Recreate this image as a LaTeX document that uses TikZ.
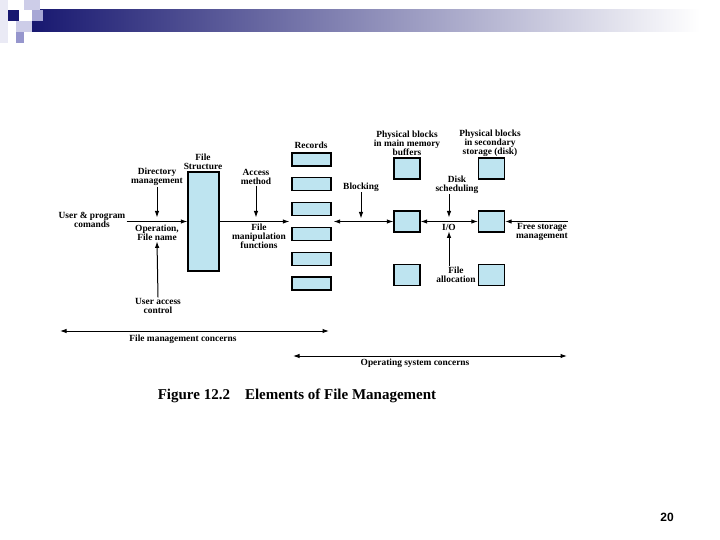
\documentclass[tikz,border=0pt]{standalone}
\usepackage{fontspec}
\setmainfont{Liberation Serif}
\setsansfont{Liberation Sans}
\usetikzlibrary{arrows.meta,calc,positioning}
\definecolor{boxblue}{RGB}{190,228,240}
\definecolor{navy}{RGB}{24,24,112}
\definecolor{lavlight}{RGB}{205,205,232}
\definecolor{lavmid}{RGB}{150,150,205}
\definecolor{lavpale}{RGB}{234,234,245}
\tikzset{
  blockbox/.style={draw=black, fill=boxblue, line width=1.3pt, inner sep=0pt},
  bufbox/.style={blockbox, minimum width=26pt, minimum height=21pt},
  recbox/.style={blockbox, minimum width=39pt, minimum height=13pt},
  lbl/.style={font=\fontsize{9.4}{8.8}\selectfont\bfseries, align=center, inner sep=1pt},
  arr/.style={-{Latex[length=6.5pt,width=4.5pt]}, line width=1pt},
  dbl/.style={{Latex[length=6.5pt,width=4.5pt]}-{Latex[length=6.5pt,width=4.5pt]}, line width=1pt},
}
\begin{document}
\begin{tikzpicture}[x=1pt,y=-1pt]
\useasboundingbox (0,0) rectangle (720,540);
% slide header
\fill[lavpale] (0,0) rectangle (8,43);
\shade[left color=navy, middle color={rgb,255:red,172;green,172;blue,198}, right color=white] (32,10) rectangle (700,32);
\fill[navy] (8,10) rectangle (19,21);
\fill[lavlight] (24,0) rectangle (40,10);
\fill[lavmid!70!lavlight] (32,10) rectangle (43,21);
\fill[lavlight] (16,21) rectangle (32,32);
\fill[lavmid] (16,32) rectangle (24,43);

% boxes
\node[blockbox, minimum width=31pt, minimum height=99pt] (fs) at (203.5,221.5) {};
\foreach \i in {0,...,5}
    \node[recbox] (rec\i) at (311.5,{159.5+24.8*\i}) {};
\foreach \n/\y in {1/168.5,2/221.5,3/275}{
    \node[bufbox] (buf\n) at (407,\y) {};
    \node[bufbox] (dsk\n) at (491.5,\y) {};
}

% labels
\node[lbl] (fslbl) at (203,161.5) {File\\Structure};
\node[lbl] (dir) at (157,177) {Directory\\management};
\node[lbl] (acc) at (256,177) {Access\\method};
\node[lbl] (usr) at (92,220) {User \& program\\comands};
\node[lbl] (opn) at (157,232.5) {Operation,\\File name};
\node[lbl] (fmf) at (259,236.5) {File\\manipulation\\functions};
\node[lbl] (uac) at (158,306) {User access\\control};
\node[lbl] (reclbl) at (311,145) {Records};
\node[lbl] (blk) at (361,187) {Blocking};
\node[lbl] (pmm) at (407,143.5) {Physical blocks\\in main memory\\buffers};
\node[lbl] (pss) at (490,143.5) {Physical blocks\\in secondary\\storage (disk)};
\node[lbl] (dsch) at (457,184.5) {Disk\\scheduling};
\node[lbl] (io) at (449,227) {I/O};
\node[lbl] (fal) at (456,275) {File\\allocation};
\node[lbl] (fsm) at (542,232) {Free storage\\management};
\node[lbl] (fmc) at (183,339) {File management concerns};
\node[lbl] (osc) at (415,363) {Operating system concerns};

\coordinate (fsin) at (568,221.5);
\coordinate (fmcl) at (60,331);
\coordinate (fmcr) at (329,331);
\coordinate (oscl) at (293,356);
\coordinate (oscr) at (567,356);

% connectors
\draw[arr] (usr.east |- fs.center) -- (fs.west);
\draw[arr, shorten >=4pt] (dir.south) -- (dir.south |- fs.center);
\draw[arr] (uac.north) -- (opn.south);
\draw[arr, shorten >=2pt] (fs.east) -- (rec3.west |- fs.east);
\draw[arr, shorten >=4pt] (acc.south) -- (acc.south |- fs.center);
\draw[dbl, shorten <=2pt] (rec2.east |- buf2.west) -- (buf2.west);
\draw[arr, shorten >=3pt] (blk.south) -- (blk.south |- buf2.west);
\draw[dbl] (buf2.east) -- (dsk2.west);
\draw[arr, shorten >=4pt] (dsch.south -| io) -- (io.north |- buf2.center);
\draw[arr] (fal.north -| io) -- (io.south);
\draw[arr] (fsin) -- (dsk2.east);
\draw[dbl] (fmcl) -- (fmcr);
\draw[dbl] (oscl) -- (oscr);

% caption and page number
\node[font=\fontsize{15}{17}\selectfont\bfseries] (cap) at (297,396) {Figure 12.2\quad Elements of File Management};
\node[font=\sffamily\fontsize{12}{14}\selectfont\bfseries] (pg) at (667,517) {20};
\end{tikzpicture}
\end{document}
